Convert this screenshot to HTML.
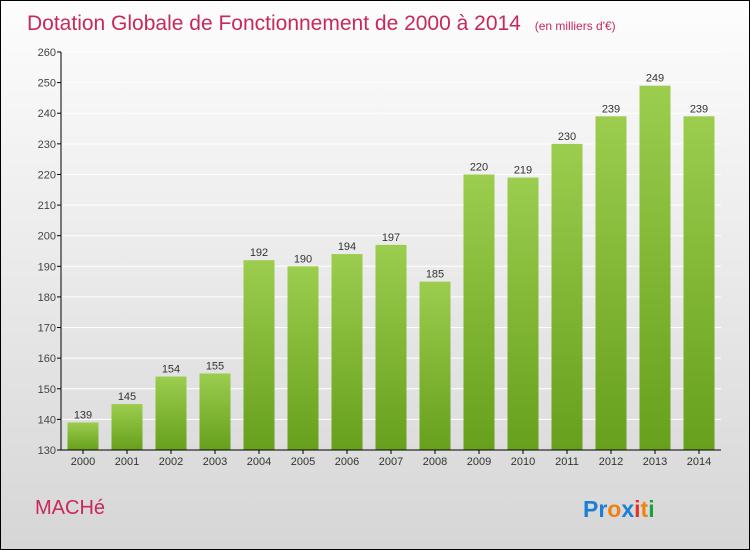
<!DOCTYPE html>
<html><head><meta charset="utf-8"><style>
body{margin:0}
#c{width:750px;height:550px;position:relative;box-sizing:border-box;border:1px solid #000;background:linear-gradient(#fdfdfd,#d6d6d6);font-family:"Liberation Sans",sans-serif;overflow:hidden}
</style></head><body>
<div id="c">
<svg id="s" width="748" height="548" style="position:absolute;left:0;top:0">
<defs><linearGradient id="g" x1="0" y1="0" x2="0" y2="1"><stop offset="0" stop-color="#9ccd4e"/><stop offset="1" stop-color="#66a01c"/></linearGradient></defs>
<text x="26" y="29" font-size="21" fill="#c8285a">Dotation Globale de Fonctionnement de 2000 à 2014 <tspan font-size="12" dx="8">(en milliers d'€)</tspan></text>
<text x="34" y="513" font-size="20" fill="#c8285a">MACHé</text>
<g font-size="23" font-weight="bold"><text x="582" y="516"><tspan fill="#1a7fd6">Pr</tspan><tspan fill="#f08010">o</tspan><tspan fill="#1a7fd6">x</tspan><tspan fill="#e83020">i</tspan><tspan fill="#f08010">t</tspan><tspan fill="#1aa040">i</tspan></text></g>
</svg>
</div>
<script>
const years=["2000","2001","2002","2003","2004","2005","2006","2007","2008","2009","2010","2011","2012","2013","2014"];
const values=[139,145,154,155,192,190,194,197,185,220,219,230,239,249,239];
const ticks=[130,140,150,160,170,180,190,200,210,220,230,240,250,260];
const s=document.getElementById('s');const NS='http://www.w3.org/2000/svg';
const x0=60,x1=720,yTop=51,yBot=449,vmin=130,vmax=260;
const y=v=>yBot-(v-vmin)/(vmax-vmin)*(yBot-yTop);
const step=(x1-x0)/years.length;const xc=i=>x0+step*(i+0.5);
function el(t,a){const e=document.createElementNS(NS,t);for(const k in a)e.setAttribute(k,a[k]);s.appendChild(e);return e;}
ticks.forEach(t=>{
 const g=el('line',{x1:x0,x2:x1,y1:y(t),y2:y(t),stroke:'#fff','stroke-width':1});
 
 
 const tk=el('line',{x1:x0-4,x2:x0,y1:y(t),y2:y(t),stroke:'#000'});
 
 
 const l=el('text',{x:x0-5,y:y(t)+4,'font-size':11,fill:'#444','text-anchor':'end'});l.textContent=t;
 
 
});
values.forEach((v,i)=>{
 const w=31;
 const r=el('rect',{x:xc(i)-w/2,y:y(v),width:w,height:yBot-y(v),fill:'url(#g)'});
 
 
 const t=el('text',{x:xc(i),y:y(v)-4,'font-size':11,fill:'#333','text-anchor':'middle'});t.textContent=v;
 
 
 const xl=el('text',{x:xc(i),y:yBot+15,'font-size':11,fill:'#333','text-anchor':'middle'});xl.textContent=years[i];
 
 
 const xt=el('line',{x1:xc(i),x2:xc(i),y1:yBot,y2:yBot+4,stroke:'#000'});
 
 
});
const ya=el('line',{x1:x0,x2:x0,y1:yTop,y2:yBot,stroke:'#000'});


const xa=el('line',{x1:x0,x2:x1,y1:yBot,y2:yBot,stroke:'#000'});


</script>
</body></html>
